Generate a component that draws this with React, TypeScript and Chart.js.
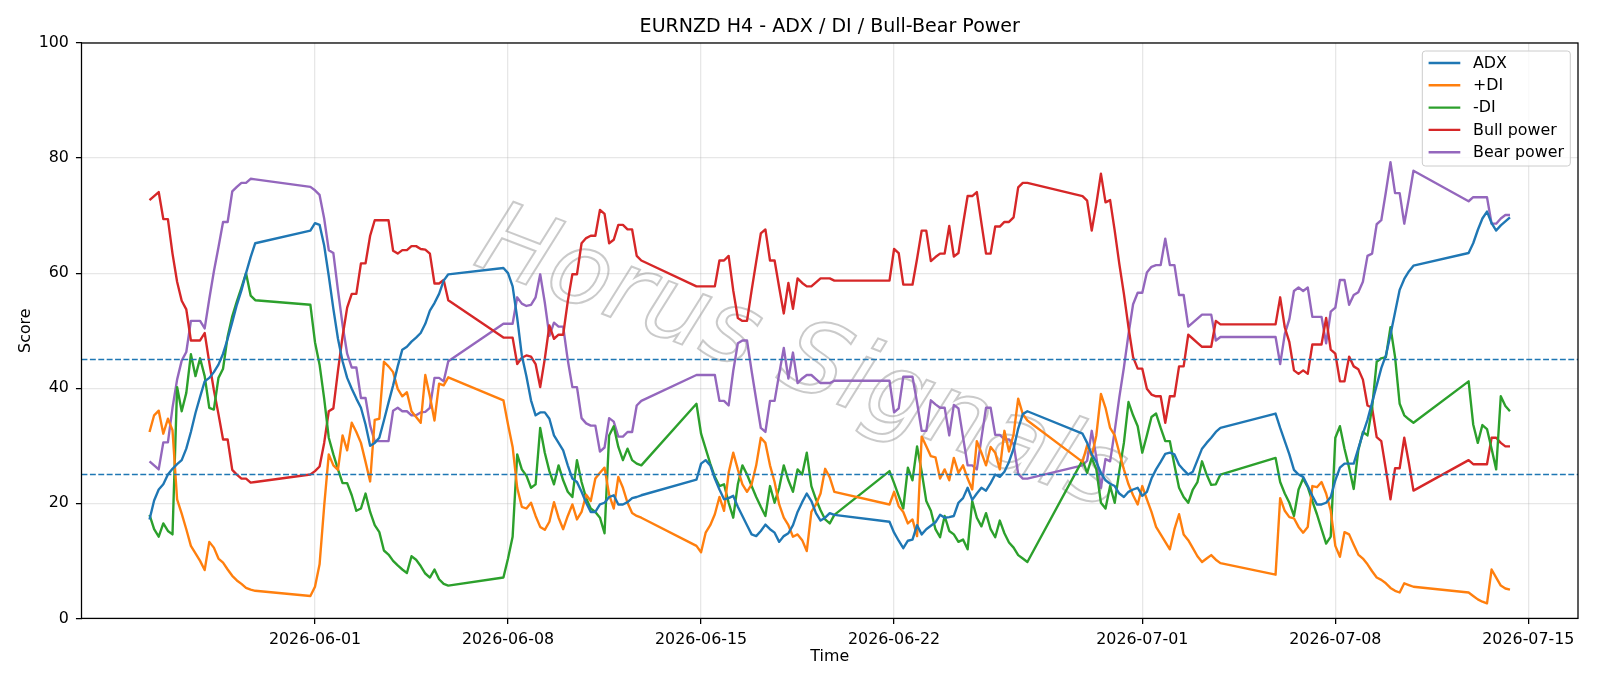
import React, { useEffect, useRef } from 'react';
import { Chart, registerables } from 'chart.js';

Chart.register(...registerables);

// H4 trading sessions (UTC): first bar of each session and its bar count
const SESSIONS: [string, number][] = [
  ['2026-05-26T00:00:00Z', 24],
  ['2026-05-31T20:00:00Z', 31],
  ['2026-06-07T20:00:00Z', 31],
  ['2026-06-14T20:00:00Z', 31],
  ['2026-06-21T20:00:00Z', 31],
  ['2026-06-28T20:00:00Z', 31],
  ['2026-07-05T20:00:00Z', 31],
  ['2026-07-12T20:00:00Z', 10],
];

const X_TICKS = ['2026-06-01', '2026-06-08', '2026-06-15', '2026-06-22', '2026-07-01', '2026-07-08', '2026-07-15'];
const Y_TICKS = [0, 20, 40, 60, 80, 100];
const LEVELS = [25, 45];

const ADX = [
  17.2, 20.5, 22.4, 23.3, 25.0, 26.0, 26.8, 27.5, 29.5, 32.4, 35.7, 38.5, 41.2, 41.8, 42.8, 44.1, 46.0, 48.6, 51.5, 54.5, 57.0, 60.0, 62.8, 65.2,
  67.4, 68.7, 68.4, 64.8, 59.5, 53.8, 48.6, 44.7, 41.8, 39.9, 38.2, 36.6, 33.7, 30.0, 30.5, 31.4, 34.4, 37.5, 40.5, 43.8, 46.7, 47.2, 48.1, 48.8, 49.6, 51.2, 53.5, 54.8, 56.4, 58.7, 59.8,
  60.9, 60.0, 57.7, 52.2, 45.7, 42.1, 37.9, 35.3, 35.8, 35.8, 34.7, 31.8, 30.5, 29.2, 26.6, 24.3, 23.7, 22.0, 20.1, 18.5, 18.5, 19.8, 20.1, 21.1, 21.4, 19.8, 19.8, 20.2, 20.9, 21.1, 21.4,
  24.1, 26.9, 27.5, 26.6, 24.3, 22.4, 20.7, 20.9, 21.3, 19.4, 17.8, 16.2, 14.6, 14.3, 15.2, 16.3, 15.5, 14.9, 13.3, 14.3, 14.8, 16.2, 18.5, 20.2, 21.7, 20.4, 18.3, 17.0, 17.5, 18.3, 18.0,
  16.8, 14.9, 13.5, 12.2, 13.5, 13.7, 16.2, 14.6, 15.5, 16.1, 16.7, 18.0, 17.5, 17.6, 17.8, 20.1, 20.9, 22.7, 20.6, 21.7, 22.7, 22.2, 23.5, 25.0, 24.6, 25.5, 27.2, 29.5, 33.0, 35.5, 36.0,
  32.1, 30.5, 28.5, 27.2, 25.3, 24.0, 23.4, 23.0, 21.7, 21.1, 22.0, 22.4, 22.7, 21.3, 22.0, 24.3, 25.9, 27.2, 28.6, 28.8, 28.5, 26.7, 25.8, 25.0, 25.5, 27.5, 29.5, 30.5, 31.4, 32.4, 33.1,
  35.6, 33.1, 30.8, 28.5, 25.8, 25.0, 24.6, 23.0, 21.3, 19.8, 19.8, 20.1, 21.1, 24.0, 26.2, 26.9, 26.9, 26.9, 29.5, 32.1, 34.5, 37.5, 40.5, 43.5, 45.7, 49.3, 53.2, 57.1, 59.0, 60.3, 61.3,
  63.5, 65.2, 67.5, 69.5, 70.7, 68.7, 67.4, 68.3, 69.0, 69.7,
];

const PLUS_DI = [
  32.4, 35.3, 36.1, 32.1, 34.7, 32.7, 20.7, 18.2, 15.5, 12.6, 11.3, 10.0, 8.4, 13.3, 12.3, 10.4, 9.7, 8.5, 7.4, 6.6, 6.0, 5.3, 5.0, 4.8,
  3.9, 5.5, 9.4, 19.5, 28.5, 26.6, 25.8, 31.8, 29.2, 34.0, 32.4, 30.5, 27.2, 23.8, 34.5, 34.7, 44.6, 43.8, 42.8, 39.9, 38.6, 39.3, 36.0, 35.0, 34.0, 42.3, 38.6, 34.4, 40.8, 40.5, 41.9,
  37.9, 33.7, 29.8, 22.7, 19.4, 19.1, 20.1, 17.8, 15.9, 15.4, 16.8, 20.2, 17.5, 15.5, 17.8, 19.8, 17.2, 18.5, 21.5, 20.4, 24.3, 25.3, 26.2, 21.5, 19.1, 24.6, 22.7, 20.1, 18.3, 17.8, 17.5,
  12.6, 11.5, 14.9, 16.2, 18.1, 21.1, 18.7, 25.3, 28.8, 25.9, 23.3, 22.0, 23.3, 26.6, 31.4, 30.5, 26.6, 23.7, 19.8, 17.5, 16.2, 14.2, 14.6, 13.6, 11.7, 18.5, 19.8, 21.7, 26.0, 24.5, 22.0,
  19.8, 22.0, 19.5, 18.5, 16.5, 17.2, 14.3, 31.6, 29.9, 28.2, 28.0, 24.3, 25.9, 24.0, 27.9, 25.3, 26.6, 24.3, 22.4, 30.8, 28.8, 26.6, 29.8, 28.8, 25.9, 32.6, 29.0, 32.0, 38.2, 35.5, 34.4,
  27.2, 30.1, 28.2, 31.8, 39.0, 36.6, 33.1, 31.8, 28.8, 25.9, 23.3, 21.4, 19.8, 23.0, 20.7, 18.5, 15.9, 14.6, 13.3, 12.0, 15.5, 18.1, 14.6, 13.6, 12.2, 10.8, 9.8, 10.4, 11.0, 10.2, 9.6,
  7.6, 20.9, 18.7, 17.6, 17.4, 15.9, 14.9, 15.9, 23.0, 22.8, 23.7, 21.7, 18.7, 12.6, 10.7, 15.0, 14.6, 12.8, 11.1, 10.4, 9.4, 8.2, 7.1, 6.7, 6.1, 5.3, 4.8, 4.5, 6.1, 5.8, 5.5,
  4.5, 3.9, 3.3, 2.9, 2.6, 8.5, 7.1, 5.7, 5.2, 5.0,
];

const MINUS_DI = [
  18.0, 15.5, 14.2, 16.5, 15.2, 14.6, 40.2, 36.0, 39.2, 45.9, 42.1, 45.2, 42.1, 36.6, 36.3, 41.8, 43.4, 49.0, 52.5, 55.1, 57.5, 60.0, 56.1, 55.3,
  54.5, 48.0, 44.1, 38.2, 31.4, 28.5, 25.9, 23.5, 23.5, 21.4, 18.7, 19.1, 21.7, 18.5, 16.2, 15.0, 11.8, 11.1, 10.0, 9.2, 8.5, 7.9, 10.8, 10.2, 9.1, 7.8, 7.1, 8.5, 6.8, 6.0, 5.7,
  7.1, 10.4, 14.2, 28.5, 25.9, 24.8, 22.7, 23.3, 33.1, 28.8, 25.6, 23.3, 26.6, 24.0, 22.0, 21.1, 27.5, 23.7, 20.9, 19.1, 18.5, 17.5, 14.8, 31.8, 33.4, 29.8, 27.5, 29.5, 27.5, 26.9, 26.6,
  37.3, 32.1, 29.5, 26.9, 24.6, 23.0, 23.3, 20.1, 17.5, 23.3, 26.6, 25.0, 23.0, 21.1, 19.4, 17.8, 23.0, 20.1, 22.7, 26.6, 24.0, 22.0, 25.9, 25.0, 28.8, 23.0, 20.7, 18.8, 17.2, 16.5, 18.0,
  25.6, 23.5, 21.3, 19.1, 26.2, 24.0, 29.9, 25.5, 20.4, 18.7, 15.5, 14.1, 17.8, 15.2, 14.6, 13.3, 13.7, 12.0, 20.4, 17.5, 16.0, 18.3, 15.5, 14.1, 17.0, 14.8, 13.2, 12.3, 11.0, 10.4, 9.8,
  27.5, 25.3, 27.9, 25.9, 20.1, 19.1, 23.0, 20.1, 25.6, 30.5, 37.6, 35.3, 33.4, 28.8, 31.8, 35.0, 35.6, 33.1, 30.8, 30.8, 26.6, 22.7, 21.1, 20.1, 22.4, 23.7, 27.3, 25.0, 23.2, 23.3, 25.0,
  27.9, 23.7, 21.7, 20.1, 17.8, 22.4, 24.3, 22.8, 20.4, 18.1, 15.5, 13.0, 14.2, 31.4, 33.4, 29.5, 26.2, 22.5, 29.2, 32.4, 31.8, 36.6, 44.6, 45.2, 45.4, 50.6, 45.4, 37.3, 35.3, 34.6, 34.0,
  41.2, 33.7, 30.5, 33.6, 32.9, 29.5, 25.9, 38.6, 36.9, 36.0,
];

const BULL_POWER = [
  72.7, 73.4, 74.1, 69.4, 69.4, 63.4, 58.5, 55.2, 53.7, 48.3, 48.3, 48.3, 49.6, 44.5, 39.7, 35.5, 31.1, 31.1, 25.8, 25.0, 24.3, 24.3, 23.6, 23.7,
  25.0, 25.6, 26.4, 30.5, 36.0, 36.5, 43.0, 49.0, 54.0, 56.4, 56.4, 61.7, 61.7, 66.5, 69.2, 69.2, 69.2, 69.2, 63.9, 63.4, 64.0, 64.0, 64.7, 64.7, 64.2, 64.1, 63.4, 58.2, 58.2, 58.8, 55.3,
  48.8, 48.8, 48.8, 44.2, 45.3, 45.7, 45.5, 44.2, 40.2, 45.1, 50.9, 48.6, 49.3, 49.3, 55.1, 59.8, 59.8, 65.2, 66.1, 66.5, 66.5, 71.0, 70.3, 65.2, 65.8, 68.4, 68.4, 67.6, 67.6, 63.0, 62.2,
  57.7, 57.7, 57.7, 57.7, 57.7, 62.2, 62.2, 63.0, 57.0, 52.2, 51.7, 51.7, 57.0, 62.0, 66.9, 67.6, 62.2, 62.2, 57.5, 53.0, 58.3, 53.8, 59.1, 58.3, 57.7, 57.7, 58.4, 59.1, 59.1, 59.1, 58.7,
  58.7, 64.2, 63.5, 58.0, 58.0, 58.0, 62.5, 67.4, 67.4, 62.1, 62.8, 63.4, 63.4, 68.2, 62.9, 63.5, 68.5, 73.4, 73.4, 74.1, 68.7, 63.4, 63.4, 68.1, 68.1, 68.9, 68.9, 69.7, 74.9, 75.7, 75.7,
  73.4, 72.6, 67.4, 72.0, 77.3, 72.3, 72.7, 67.4, 61.6, 56.4, 50.6, 45.4, 43.4, 43.4, 39.9, 38.9, 38.6, 38.6, 34.0, 38.6, 38.6, 43.8, 43.8, 49.3, 48.6, 47.9, 47.2, 47.2, 47.2, 51.7, 51.1,
  51.1, 55.8, 50.6, 48.0, 43.1, 42.5, 43.1, 42.5, 47.6, 47.6, 47.6, 52.2, 46.7, 46.0, 41.2, 41.2, 45.5, 43.8, 43.3, 41.5, 37.0, 36.6, 31.5, 30.8, 25.9, 20.7, 26.1, 26.1, 31.4, 27.0, 22.2,
  27.5, 26.8, 26.8, 26.8, 26.8, 31.4, 31.4, 30.5, 29.9, 29.9,
];

const BEAR_POWER = [
  27.3, 26.6, 25.9, 30.6, 30.6, 36.6, 41.5, 44.8, 46.3, 51.7, 51.7, 51.7, 50.4, 55.5, 60.3, 64.5, 68.9, 68.9, 74.2, 75.0, 75.7, 75.7, 76.4, 76.3,
  75.0, 74.4, 73.6, 69.5, 64.0, 63.5, 57.0, 51.0, 46.0, 43.6, 43.6, 38.3, 38.3, 33.5, 30.8, 30.8, 30.8, 30.8, 36.1, 36.6, 36.0, 36.0, 35.3, 35.3, 35.8, 35.9, 36.6, 41.8, 41.8, 41.2, 44.7,
  51.2, 51.2, 51.2, 55.8, 54.7, 54.3, 54.5, 55.8, 59.8, 54.9, 49.1, 51.4, 50.7, 50.7, 44.9, 40.2, 40.2, 34.8, 33.9, 33.5, 33.5, 29.0, 29.7, 34.8, 34.2, 31.6, 31.6, 32.4, 32.4, 37.0, 37.8,
  42.3, 42.3, 42.3, 42.3, 42.3, 37.8, 37.8, 37.0, 43.0, 47.8, 48.3, 48.3, 43.0, 38.0, 33.1, 32.4, 37.8, 37.8, 42.5, 47.0, 41.7, 46.2, 40.9, 41.7, 42.3, 42.3, 41.6, 40.9, 40.9, 40.9, 41.3,
  41.3, 35.8, 36.5, 42.0, 42.0, 42.0, 37.5, 32.6, 32.6, 37.9, 37.2, 36.6, 36.6, 31.8, 37.1, 36.5, 31.5, 26.6, 26.6, 25.9, 31.3, 36.6, 36.6, 31.9, 31.9, 31.1, 31.1, 30.3, 25.1, 24.3, 24.3,
  26.6, 27.4, 32.6, 28.0, 22.7, 27.7, 27.3, 32.6, 38.4, 43.6, 49.4, 54.6, 56.6, 56.6, 60.1, 61.1, 61.4, 61.4, 66.0, 61.4, 61.4, 56.2, 56.2, 50.7, 51.4, 52.1, 52.8, 52.8, 52.8, 48.3, 48.9,
  48.9, 44.2, 49.4, 52.0, 56.9, 57.5, 56.9, 57.5, 52.4, 52.4, 52.4, 47.8, 53.3, 54.0, 58.8, 58.8, 54.5, 56.2, 56.7, 58.5, 63.0, 63.4, 68.5, 69.2, 74.1, 79.3, 73.9, 73.9, 68.6, 73.0, 77.8,
  72.5, 73.2, 73.2, 73.2, 73.2, 68.6, 68.6, 69.5, 70.1, 70.1,
];

const SERIES = [
  { label: 'ADX', color: '#1f77b4', values: ADX },
  { label: '+DI', color: '#ff7f0e', values: PLUS_DI },
  { label: '-DI', color: '#2ca02c', values: MINUS_DI },
  { label: 'Bull power', color: '#d62728', values: BULL_POWER },
  { label: 'Bear power', color: '#9467bd', values: BEAR_POWER },
];

const FONT = 'DejaVu Sans';
const PT = 114.29 / 72; // px per point at the figure's resolution

// Bar open times in ms, built from the session table
function barTimes(): number[] {
  const out: number[] = [];
  const step = 4 * 3600 * 1000;
  for (const [start, n] of SESSIONS) {
    const t0 = Date.parse(start);
    for (let i = 0; i < n; i++) out.push(t0 + i * step);
  }
  return out;
}

const TIMES = barTimes();
const T_FIRST = TIMES[0];
const T_LAST = TIMES[TIMES.length - 1];
const T_PAD = (T_LAST - T_FIRST) * 0.05;
const TICK_MS = X_TICKS.map((d) => Date.parse(d + 'T00:00:00Z'));

const decorPlugin = {
  id: 'decor',
  beforeDatasetsDraw(chart: any) {
    const { ctx } = chart;
    // faint outlined watermark behind the lines
    ctx.save();
    ctx.translate(800, 362);
    ctx.rotate((21 * Math.PI) / 180);
    ctx.font = `oblique 100px "${FONT}"`;
    ctx.textAlign = 'center';
    ctx.textBaseline = 'middle';
    ctx.strokeStyle = 'rgba(150,150,150,0.5)';
    ctx.lineWidth = 2;
    ctx.strokeText('Horus Signals', 0, 0);
    ctx.restore();
  },
  afterDatasetsDraw(chart: any) {
    const { ctx, chartArea: a, scales } = chart;
    // threshold levels
    ctx.save();
    ctx.strokeStyle = '#1f77b4';
    ctx.lineWidth = 1.6;
    ctx.setLineDash([5.9, 2.5]);
    for (const lv of LEVELS) {
      const y = scales.y.getPixelForValue(lv);
      ctx.beginPath();
      ctx.moveTo(a.left, y);
      ctx.lineTo(a.right, y);
      ctx.stroke();
    }
    ctx.setLineDash([]);
    // axes frame
    ctx.strokeStyle = '#000';
    ctx.lineWidth = 0.8 * PT;
    ctx.strokeRect(a.left, a.top, a.right - a.left, a.bottom - a.top);
    ctx.restore();
  },
  afterDraw(chart: any) {
    const { ctx, chartArea: a } = chart;
    const fs = 10 * PT;
    ctx.save();
    // title and axis labels
    ctx.fillStyle = '#000';
    ctx.textAlign = 'center';
    ctx.textBaseline = 'middle';
    ctx.font = `${12 * PT}px "${FONT}"`;
    ctx.fillText('EURNZD H4 - ADX / DI / Bull-Bear Power', (a.left + a.right) / 2, 27.5);
    ctx.font = `${fs}px "${FONT}"`;
    ctx.fillText('Time', (a.left + a.right) / 2, 657);
    ctx.save();
    ctx.translate(26, (a.top + a.bottom) / 2);
    ctx.rotate(-Math.PI / 2);
    ctx.fillText('Score', 0, 0);
    ctx.restore();

    // legend box
    const bx = 1422.3, by = 51, bw = 148, bh = 115, r = 3;
    ctx.beginPath();
    ctx.moveTo(bx + r, by);
    ctx.lineTo(bx + bw - r, by);
    ctx.quadraticCurveTo(bx + bw, by, bx + bw, by + r);
    ctx.lineTo(bx + bw, by + bh - r);
    ctx.quadraticCurveTo(bx + bw, by + bh, bx + bw - r, by + bh);
    ctx.lineTo(bx + r, by + bh);
    ctx.quadraticCurveTo(bx, by + bh, bx, by + bh - r);
    ctx.lineTo(bx, by + r);
    ctx.quadraticCurveTo(bx, by, bx + r, by);
    ctx.closePath();
    ctx.fillStyle = 'rgba(255,255,255,0.8)';
    ctx.fill();
    ctx.strokeStyle = '#cccccc';
    ctx.lineWidth = 1;
    ctx.stroke();

    ctx.textAlign = 'left';
    ctx.textBaseline = 'middle';
    SERIES.forEach((s, k) => {
      const y = 63 + k * 22.3;
      ctx.strokeStyle = s.color;
      ctx.lineWidth = 1.5 * PT;
      ctx.beginPath();
      ctx.moveTo(1428.6, y);
      ctx.lineTo(1460.3, y);
      ctx.stroke();
      ctx.fillStyle = '#000';
      ctx.fillText(s.label, 1473, y + 0.5);
    });
    ctx.restore();
  },
};

export default function App() {
  const canvasRef = useRef<HTMLCanvasElement | null>(null);

  useEffect(() => {
    const canvas = canvasRef.current;
    if (!canvas) return;
    const tickFont = { family: FONT, size: 10 * PT };
    const gridCommon = {
      color: 'rgba(176,176,176,0.3)',
      lineWidth: 0.8 * PT,
      tickColor: '#000',
      tickWidth: 0.8 * PT,
      tickLength: 3.5 * PT,
      drawTicks: true,
    };

    const chart = new Chart(canvas, {
      type: 'line',
      data: {
        datasets: SERIES.map((s) => ({
          label: s.label,
          data: s.values.map((v, i) => ({ x: TIMES[i], y: v })),
          borderColor: s.color,
          backgroundColor: s.color,
          borderWidth: 1.5 * PT,
          pointRadius: 0,
          pointHoverRadius: 0,
          tension: 0,
          fill: false,
          borderJoinStyle: 'round',
          borderCapStyle: 'butt',
        })),
      },
      options: {
        responsive: false,
        animation: false,
        devicePixelRatio: 1,
        events: [],
        layout: { padding: { left: 0, top: 43, right: 22, bottom: 0 } },
        plugins: {
          legend: { display: false },
          title: { display: false },
          tooltip: { enabled: false },
        },
        scales: {
          x: {
            type: 'linear',
            min: T_FIRST - T_PAD,
            max: T_LAST + T_PAD,
            afterBuildTicks: (scale: any) => {
              scale.ticks = TICK_MS.map((v) => ({ value: v }));
            },
            afterFit: (scale: any) => {
              scale.height = 686 - 618.4;
            },
            grid: gridCommon,
            border: { display: false },
            ticks: {
              color: '#000',
              font: tickFont,
              padding: 6,
              maxRotation: 0,
              autoSkip: false,
              callback: (v: any) => new Date(Number(v)).toISOString().slice(0, 10),
            },
          },
          y: {
            type: 'linear',
            min: 0,
            max: 100,
            afterBuildTicks: (scale: any) => {
              scale.ticks = Y_TICKS.map((v) => ({ value: v }));
            },
            afterFit: (scale: any) => {
              scale.width = 81.5;
            },
            grid: gridCommon,
            border: { display: false },
            ticks: {
              color: '#000',
              font: tickFont,
              padding: 7,
              callback: (v: any) => String(v),
            },
          },
        },
      } as any,
      plugins: [decorPlugin],
    });

    return () => chart.destroy();
  }, []);

  return (
    <div style={{ position: 'fixed', left: 0, top: 0, width: 1600, height: 686, background: '#fff' }}>
      <canvas ref={canvasRef} width={1600} height={686} style={{ display: 'block', width: 1600, height: 686 }} />
    </div>
  );
}
